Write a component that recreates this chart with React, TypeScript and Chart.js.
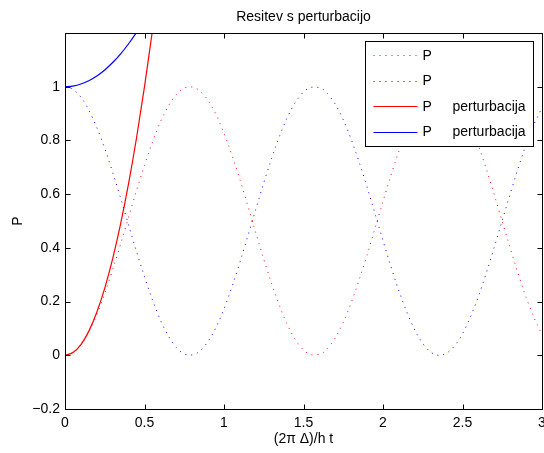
import React, { useEffect, useRef } from "react";
import { Chart, registerables } from "chart.js";

Chart.register(...registerables);

// ---- data ----
const tValues = [
  0, 0.05, 0.1, 0.15, 0.2, 0.25, 0.3, 0.35, 0.4, 0.45,
  0.5, 0.55, 0.6, 0.65, 0.7, 0.75, 0.8, 0.85, 0.9, 0.95,
  1.0, 1.05, 1.1, 1.15, 1.2, 1.25, 1.3, 1.35, 1.4, 1.45,
  1.5, 1.55, 1.6, 1.65, 1.7, 1.75, 1.8, 1.85, 1.9, 1.95,
  2.0, 2.05, 2.1, 2.15, 2.2, 2.25, 2.3, 2.35, 2.4, 2.45,
  2.5, 2.55, 2.6, 2.65, 2.7, 2.75, 2.8, 2.85, 2.9, 2.95, 3.0,
];
const pRed = [
  0, 0.010, 0.039, 0.087, 0.152, 0.230, 0.319, 0.415, 0.515, 0.614,
  0.708, 0.794, 0.869, 0.928, 0.971, 0.995, 0.999, 0.983, 0.948, 0.896,
  0.827, 0.745, 0.654, 0.556, 0.456, 0.358, 0.266, 0.183, 0.112, 0.057,
  0.020, 0.002, 0.003, 0.025, 0.065, 0.123, 0.196, 0.281, 0.374, 0.473,
  0.573, 0.670, 0.760, 0.839, 0.906, 0.956, 0.988, 1.000, 0.992, 0.965,
  0.920, 0.857, 0.781, 0.693, 0.597, 0.498, 0.399, 0.303, 0.216, 0.140, 0.078,
];
const pBlue = [
  1, 0.990, 0.961, 0.913, 0.848, 0.770, 0.681, 0.585, 0.485, 0.386,
  0.292, 0.206, 0.131, 0.072, 0.029, 0.005, 0.001, 0.017, 0.052, 0.104,
  0.173, 0.255, 0.346, 0.444, 0.544, 0.642, 0.734, 0.817, 0.888, 0.943,
  0.980, 0.998, 0.997, 0.975, 0.935, 0.877, 0.804, 0.719, 0.626, 0.527,
  0.427, 0.330, 0.240, 0.161, 0.094, 0.044, 0.012, 0.000, 0.008, 0.035,
  0.080, 0.143, 0.219, 0.307, 0.403, 0.502, 0.601, 0.697, 0.784, 0.860, 0.922,
];
const tPert = [0, 0.05, 0.1, 0.15, 0.2, 0.25, 0.3, 0.35, 0.4, 0.45, 0.5, 0.55];
const pRedPert = [0, 0.01, 0.04, 0.09, 0.16, 0.25, 0.36, 0.49, 0.64, 0.81, 1.0, 1.21];
const pBluePert = [1, 1.0025, 1.01, 1.0225, 1.04, 1.0625, 1.09, 1.1225, 1.16, 1.2025, 1.25, 1.3025];

const xTicks = [0, 0.5, 1, 1.5, 2, 2.5, 3];
const yTicks = [-0.2, 0, 0.2, 0.4, 0.6, 0.8, 1];

const seriesNames = ["P", "P", "P", "P"];
const seriesNotes = ["", "", "perturbacija", "perturbacija"];

const titleText = "Resitev s perturbacijo";
const xLabel = "(2\u03c0 \u0394)/h t";
const yLabel = "P";

const FONT = "'Liberation Sans', Arial, Helvetica, sans-serif";
const FS = 14;

function pts(xs: number[], ys: number[]) {
  return xs.map((x, i) => ({ x, y: ys[i] }));
}

const framePlugin = {
  id: "matlabFrame",
  afterDraw(chart: any) {
    const { ctx, chartArea } = chart;
    const { left, right, top, bottom } = chartArea;
    const xs = chart.scales.x;
    const ys = chart.scales.y;
    ctx.save();
    ctx.strokeStyle = "#000";
    ctx.lineWidth = 1;
    const L = Math.round(left) + 0.5;
    const R = Math.round(right) + 0.5;
    const T = Math.round(top) + 0.5;
    const B = Math.round(bottom) + 0.5;
    ctx.beginPath();
    ctx.rect(L, T, R - L, B - T);
    ctx.stroke();
    const tl = 5;
    ctx.beginPath();
    xTicks.forEach((v) => {
      const p = Math.round(xs.getPixelForValue(v)) + 0.5;
      ctx.moveTo(p, B);
      ctx.lineTo(p, B - tl);
      ctx.moveTo(p, T);
      ctx.lineTo(p, T + tl);
    });
    yTicks.forEach((v) => {
      const p = Math.round(ys.getPixelForValue(v)) + 0.5;
      ctx.moveTo(L, p);
      ctx.lineTo(L + tl, p);
      ctx.moveTo(R, p);
      ctx.lineTo(R - tl, p);
    });
    ctx.stroke();

    // legend
    const boxR = Math.round(right) - 9 + 0.5;
    const boxL = boxR - 168;
    const boxT = Math.round(top) + 8 + 0.5;
    const boxB = boxT + 105;
    ctx.fillStyle = "#fff";
    ctx.fillRect(boxL, boxT, boxR - boxL, boxB - boxT);
    ctx.strokeStyle = "#000";
    ctx.lineWidth = 1;
    ctx.strokeRect(boxL, boxT, boxR - boxL, boxB - boxT);
    ctx.font = `${FS}px ${FONT}`;
    ctx.textBaseline = "middle";
    ctx.textAlign = "left";
    chart.data.datasets.forEach((ds: any, i: number) => {
      const y = boxT + 13.5 + i * 25.5;
      ctx.save();
      ctx.strokeStyle = ds.borderColor;
      ctx.lineWidth = ds.borderWidth;
      ctx.setLineDash(ds.borderDash || []);
      ctx.beginPath();
      ctx.moveTo(boxL + 8, Math.round(y) + 0.5);
      ctx.lineTo(boxL + 52, Math.round(y) + 0.5);
      ctx.stroke();
      ctx.restore();
      ctx.fillStyle = "#000";
      ctx.fillText(seriesNames[i], boxL + 57, y + 1);
      if (seriesNotes[i]) ctx.fillText(seriesNotes[i], boxL + 87, y + 1);
    });
    ctx.restore();
  },
};

function fmt(v: number) {
  const s = String(Math.round(Math.abs(v) * 100) / 100);
  return v < 0 ? "\u2212" + s : s;
}

export default function App() {
  const ref = useRef<HTMLCanvasElement | null>(null);
  useEffect(() => {
    document.body.style.margin = "0";
    if (!ref.current) return;
    const dotted = [1, 5];
    const chart = new Chart(ref.current, {
      type: "line",
      data: {
        datasets: [
          { label: seriesNames[0], data: pts(tValues, pRed), borderColor: "#ff0000", borderWidth: 1, borderDash: dotted, pointRadius: 0, fill: false, cubicInterpolationMode: "monotone" },
          { label: seriesNames[1], data: pts(tValues, pBlue), borderColor: "#0000ff", borderWidth: 1, borderDash: dotted, pointRadius: 0, fill: false, cubicInterpolationMode: "monotone" },
          { label: seriesNames[2] + " " + seriesNotes[2], data: pts(tPert, pRedPert), borderColor: "#ff0000", borderWidth: 1.2, pointRadius: 0, fill: false, cubicInterpolationMode: "monotone" },
          { label: seriesNames[3] + " " + seriesNotes[3], data: pts(tPert, pBluePert), borderColor: "#0000ff", borderWidth: 1.2, pointRadius: 0, fill: false, cubicInterpolationMode: "monotone" },
        ] as any,
      },
      options: {
        animation: false,
        responsive: false,
        devicePixelRatio: 1,
        layout: { padding: { left: 0, right: 2, top: 0, bottom: 0 } },
        plugins: {
          legend: { display: false },
          tooltip: { enabled: false },
          title: { display: false },
        },
        scales: {
          x: {
            type: "linear",
            min: 0,
            max: 3,
            afterBuildTicks: (s: any) => { s.ticks = xTicks.map((v) => ({ value: v })); },
            afterFit: (s: any) => { s.height = 44; s.paddingLeft = 0; s.paddingRight = 0; },
            grid: { display: false, drawTicks: false },
            border: { display: false },
            ticks: { color: "#000", font: { family: FONT, size: FS }, padding: 6, maxRotation: 0, autoSkip: false, callback: (v: any) => fmt(Number(v)) },
            title: { display: true, text: xLabel, color: "#000", font: { family: FONT, size: FS }, padding: { top: 0, bottom: 5 } },
          },
          xTop: {
            type: "linear",
            position: "top",
            min: 0,
            max: 3,
            afterFit: (s: any) => { s.height = 33; s.paddingLeft = 0; s.paddingRight = 0; },
            grid: { display: false, drawTicks: false },
            border: { display: false },
            ticks: { display: false },
            title: { display: true, text: titleText, color: "#000", font: { family: FONT, size: FS }, padding: { top: 9, bottom: 0 } },
          },
          y: {
            type: "linear",
            min: -0.2,
            max: 1.2,
            afterBuildTicks: (s: any) => { s.ticks = yTicks.map((v) => ({ value: v })); },
            afterFit: (s: any) => { s.width = 65; s.paddingTop = 0; s.paddingBottom = 0; },
            grid: { display: false, drawTicks: false },
            border: { display: false },
            ticks: { color: "#000", font: { family: FONT, size: FS }, padding: 5, autoSkip: false, callback: (v: any) => fmt(Number(v)) },
            title: { display: true, text: yLabel, color: "#000", font: { family: FONT, size: FS }, padding: { top: 10, bottom: 0 } },
          },
        },
      } as any,
      plugins: [framePlugin],
    });
    return () => chart.destroy();
  }, []);
  return (
    <div style={{ position: "absolute", left: 0, top: 0, width: 544, height: 453, background: "#fff" }}>
      <canvas ref={ref} width={544} height={453} style={{ display: "block" }} />
    </div>
  );
}
